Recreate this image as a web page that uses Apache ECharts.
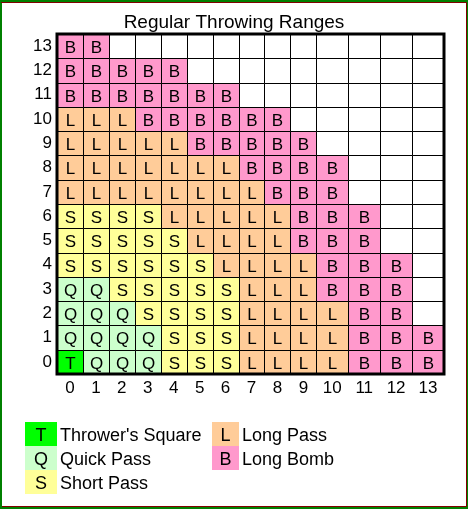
<!DOCTYPE html>
<html><head><meta charset="utf-8">
<script src="https://cdn.jsdelivr.net/npm/echarts@6/dist/echarts.min.js"></script>
<style>html,body{margin:0;padding:0;background:#fff}#c{width:468px;height:509px}</style>
</head><body><div id="c"></div>
<script>
// ---- data ----
const colLabels = ['0','1','2','3','4','5','6','7','8','9','10','11','12','13'];
const rowLabels = ['0','1','2','3','4','5','6','7','8','9','10','11','12','13'];
// zone letter of each square, row 0 (bottom) to row 13 (top); '.' = out of range
const rangeRows = [
  'TQQQSSSLLLLBBB',
  'QQQQSSSLLLLBBB',
  'QQQSSSSLLLLBB.',
  'QQSSSSSLLLBBB.',
  'SSSSSSLLLLBBB.',
  'SSSSSLLLLBBB..',
  'SSSSLLLLLBBB..',
  'LLLLLLLLBBB...',
  'LLLLLLLBBBB...',
  'LLLLLBBBBB....',
  'LLLBBBBBB.....',
  'BBBBBBB.......',
  'BBBBB.........',
  'BB............'
];
const zoneLetters = ['T','Q','S','L','B'];
const zoneNames = ["Thrower's Square",'Quick Pass','Short Pass','Long Pass','Long Bomb'];

// ---- styles / layout ----
const zoneColors = {T:'#00FF00', Q:'#CCFFCC', S:'#FFFF99', L:'#FFCC99', B:'#FF99CC', '.':'#FFFFFF'};
const colWidths = [26,26,26,26,26,26,26,26,26,26,32,32,32,32];
const FONT = 'Arial, "Liberation Sans", sans-serif';
const G = {left:57, top:34, width:387, height:340};

const colEdges = [0];
colWidths.forEach((w,i)=>colEdges.push(colEdges[i]+w));
const colCenters = colWidths.map((w,i)=>colEdges[i]+w/2);
const xMax = colEdges[colEdges.length-1];

const cells = [];
rangeRows.forEach((row,r)=>{
  for(let c=0;c<row.length;c++){ cells.push([c, r, row[c]]); }
});

const legendGraphics = [];
const legendCols = [{x:25,w:32},{x:212,w:27}];
zoneLetters.forEach((z,i)=>{
  const col = legendCols[i<3?0:1];
  const y = 422 + (i%3)*24;
  legendGraphics.push({type:'rect', shape:{x:col.x, y:y, width:col.w, height:24}, style:{fill:zoneColors[z]}, z:10});
  legendGraphics.push({type:'text', style:{text:z, x:col.x+col.w/2, y:y+14, align:'center', verticalAlign:'middle', font:'18px '+FONT, fill:'#000'}, z:11});
  legendGraphics.push({type:'text', style:{text:zoneNames[i], x:col.x+col.w+3, y:y+14, align:'left', verticalAlign:'middle', font:'18px '+FONT, fill:'#000'}, z:11});
});

const chart = echarts.init(document.getElementById('c'), null, {renderer:'canvas'});
chart.setOption({
  animation:false,
  backgroundColor:'#fff',
  title:{text:'Regular Throwing Ranges', left:'center', top:8, textStyle:{fontSize:19, fontWeight:'normal', color:'#000', fontFamily:FONT}},
  grid:{left:G.left, top:G.top, width:G.width, height:G.height, containLabel:false},
  xAxis:{type:'value', min:0, max:xMax, splitLine:{show:false}, axisLine:{show:false}, axisTick:{show:false},
    axisLabel:{customValues:colCenters, margin:6, fontSize:17, color:'#000', fontFamily:FONT,
      formatter:v=>{const i=colCenters.findIndex(cc=>Math.abs(cc-v)<0.01); return i>=0?colLabels[i]:'';}}},
  yAxis:{type:'category', data:rowLabels, axisLine:{show:false}, axisTick:{show:false}, splitLine:{show:false},
    axisLabel:{margin:5, fontSize:17, color:'#000', fontFamily:FONT}},
  series:[{
    type:'custom',
    data:cells,
    encode:{x:0, y:1},
    renderItem:(params, api)=>{
      const c = api.value(0), r = api.value(1);
      const d = cells[params.dataIndex];
      const z = d[2];
      const pA = api.coord([colEdges[c], r]);
      const pB = api.coord([colEdges[c+1], r]);
      const h = api.size([0,1])[1];
      const x0 = Math.round(pA[0])+0.5, x1 = Math.round(pB[0])+0.5;
      const y0 = Math.round(pA[1]-h/2)+0.5, y1 = Math.round(pA[1]+h/2)+0.5;
      const children = [{type:'rect', shape:{x:x0, y:y0, width:x1-x0, height:y1-y0},
        style:{fill:zoneColors[z], stroke:'#000', lineWidth:1}}];
      if(z !== '.'){
        children.push({type:'text', style:{text:z, x:(x0+x1)/2, y:(y0+y1)/2+1.5, align:'center', verticalAlign:'middle', font:'17px '+FONT, fill:'#000'}});
      }
      return {type:'group', children};
    }
  }],
  graphic:[
    {type:'rect', shape:{x:G.left, y:G.top, width:G.width, height:G.height}, style:{fill:'none', stroke:'#000', lineWidth:3}, z:20},
    {type:'rect', shape:{x:1, y:1, width:466, height:507}, style:{fill:'none', stroke:'#008000', lineWidth:2}, z:30},
    {type:'polyline', shape:{points:[[1,2.5],[466.5,2.5],[466.5,506.5],[2,506.5]]}, style:{fill:'none', stroke:'#800000', lineWidth:1}, z:31}
  ].concat(legendGraphics)
});
</script></body></html>
